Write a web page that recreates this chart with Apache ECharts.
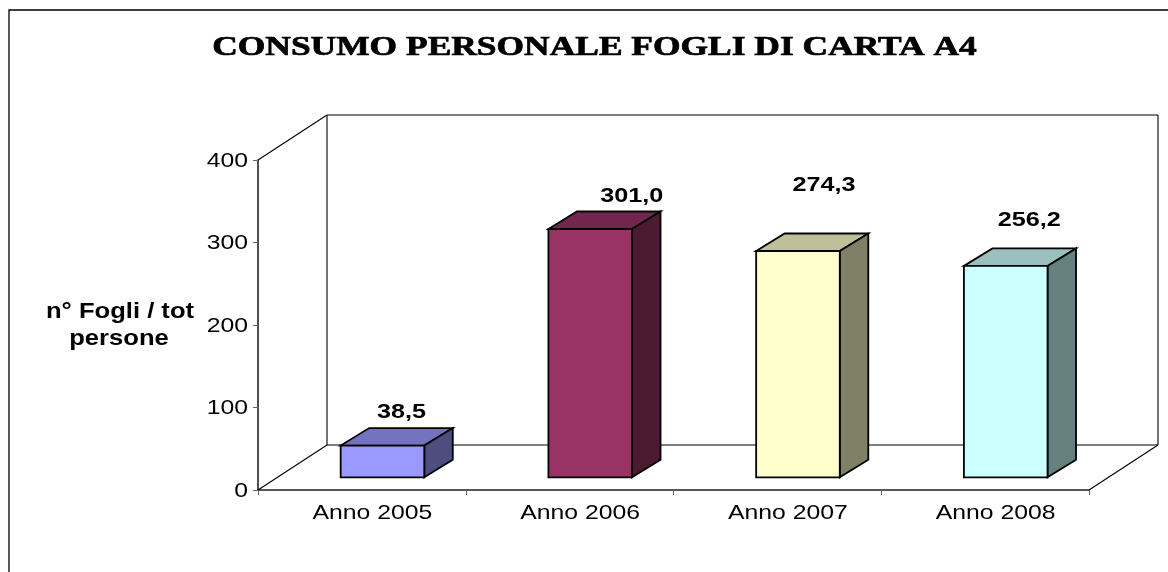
<!DOCTYPE html>
<html>
<head>
<meta charset="utf-8">
<style>html,body{margin:0;padding:0;background:#fff}#c{width:1168px;height:572px}</style>
<script src="https://cdn.jsdelivr.net/npm/echarts@6/dist/echarts.min.js"></script>
</head>
<body>
<div id="c"></div>
<script>
const chartTitle = 'CONSUMO PERSONALE FOGLI DI CARTA A4';
const yAxisTitle = ['n° Fogli / tot', 'persone'];
const categories = ['Anno 2005', 'Anno 2006', 'Anno 2007', 'Anno 2008'];
const values = [38.5, 301.0, 274.3, 256.2];
const yTicks = [0, 100, 200, 300, 400];
const faceFront = ['#9999FF', '#993366', '#FFFFCC', '#CCFFFF'];
const faceTop = ['#7373BF', '#73264D', '#BFBF99', '#99BFBF'];
const faceSide = ['#4D4D80', '#4D1A33', '#808066', '#668080'];

// Style constants of the 3D look
const SANS = '"Liberation Sans", Arial, sans-serif';
const STRETCH = 1.18;
const WALL = [69, -45], BASE = [20.6, -12.7], DEPTH = [28.5, -17.5];
const BAR_RATIO = 0.4025;
const LABEL_SHIFT = [[19, -16], [41.5, -15], [26, -48], [23.5, -28]];

function poly(points, fill, z2) {
  return { type: 'polygon', z2, shape: { points },
    style: { fill, stroke: '#000', lineWidth: 1.8, lineJoin: 'miter' } };
}
function wallLine(a, b) {
  return { type: 'line', shape: { x1: a[0], y1: a[1], x2: b[0], y2: b[1] },
    style: { stroke: '#000', lineWidth: 1.1 } };
}
function renderWalls(params) {
  const g = params.coordSys;
  const L = g.x, R = g.x + g.width, T = g.y, B = g.y + g.height;
  const [dx, dy] = WALL;
  return { type: 'group', children: [
    wallLine([L, T], [L + dx, T + dy]),
    wallLine([L, B], [L + dx, B + dy]),
    wallLine([R, B], [R + dx, B + dy]),
    wallLine([L + dx, T + dy], [R + dx, T + dy]),
    wallLine([L + dx, T + dy], [L + dx, B + dy]),
    wallLine([R + dx, T + dy], [R + dx, B + dy]),
    wallLine([L + dx, B + dy], [R + dx, B + dy])
  ]};
}
function renderBar(params, api) {
  const i = api.value(0), v = api.value(1);
  const c = api.coord([i, v]), c0 = api.coord([i, 0]);
  const w = api.size([1, 0])[0] * BAR_RATIO;
  const x0 = c[0] - w / 2 + BASE[0], x1 = x0 + w;
  const yT = c[1] + BASE[1], yB = c0[1] + BASE[1];
  const [dx, dy] = DEPTH;
  const shift = LABEL_SHIFT[i];
  return { type: 'group', children: [
    poly([[x0, yB], [x1, yB], [x1, yT], [x0, yT]], faceFront[i], 3),
    poly([[x0, yT], [x1, yT], [x1 + dx, yT + dy], [x0 + dx, yT + dy]], faceTop[i], 2),
    poly([[x1, yB], [x1 + dx, yB + dy], [x1 + dx, yT + dy], [x1, yT]], faceSide[i], 2),
    { type: 'text', z2: 5, x: (x0 + x1) / 2 + shift[0], y: yT + dy + shift[1], scaleX: 1.2,
      style: { text: v.toFixed(1).replace('.', ','), font: 'bold 21px ' + SANS, fill: '#000',
               align: 'center', verticalAlign: 'middle' } }
  ]};
}
function renderYTick(params, api) {
  const p = api.coord([0, api.value(1)]);
  return { type: 'text', x: params.coordSys.x - 10, y: p[1] + 1, scaleX: STRETCH,
    style: { text: String(api.value(1)), font: '21px ' + SANS, fill: '#000',
             align: 'right', verticalAlign: 'middle' } };
}
function renderXTick(params, api) {
  const p = api.coord([api.value(0), 0]);
  return { type: 'text', x: p[0] + 10.5, y: p[1] + 23.5, scaleX: STRETCH,
    style: { text: categories[api.value(0)], font: '21px ' + SANS, fill: '#000',
             align: 'center', verticalAlign: 'middle' } };
}

const chart = echarts.init(document.getElementById('c'), null, { renderer: 'canvas' });
chart.setOption({
  animation: false,
  backgroundColor: '#fff',
  tooltip: { show: false },
  grid: { left: 258, top: 160, width: 831, height: 330, containLabel: false },
  xAxis: { type: 'category', data: categories, boundaryGap: true,
    axisLine: { lineStyle: { color: '#222', width: 1.6 } },
    axisTick: { show: true, length: 5, alignWithLabel: false, lineStyle: { color: '#666', width: 1 } },
    axisLabel: { show: false }, splitLine: { show: false } },
  yAxis: { type: 'value', min: 0, max: 400, interval: 100,
    axisLine: { show: true, lineStyle: { color: '#222', width: 1.6 } },
    axisTick: { show: true, length: 5, lineStyle: { color: '#666', width: 1 } },
    axisLabel: { show: false }, splitLine: { show: false } },
  graphic: [
    { type: 'rect', silent: true, z: -1, shape: { x: 9, y: 10, width: 1200, height: 600 },
      style: { fill: 'none', stroke: '#000', lineWidth: 1.3 } },
    { type: 'text', silent: true, x: 594.5, y: 47.5, scaleX: 1.265,
      style: { text: chartTitle, font: 'bold 28px "Liberation Serif", serif', fill: '#000',
               stroke: '#000', lineWidth: 0.7,
               align: 'center', verticalAlign: 'middle' } },
    { type: 'text', silent: true, x: 120, y: 312, scaleX: 1.19,
      style: { text: yAxisTitle[0], font: 'bold 21.5px ' + SANS, fill: '#000',
               align: 'center', verticalAlign: 'middle' } },
    { type: 'text', silent: true, x: 119, y: 339, scaleX: 1.19,
      style: { text: yAxisTitle[1], font: 'bold 21.5px ' + SANS, fill: '#000',
               align: 'center', verticalAlign: 'middle' } }
  ],
  series: [
    { type: 'custom', name: 'walls', silent: true, clip: false, z: 1,
      renderItem: renderWalls, data: [[0, 0]] },
    { type: 'custom', name: 'Consumo', silent: true, clip: false, z: 3,
      renderItem: renderBar, encode: { x: 0, y: 1 },
      data: values.map((v, i) => [i, v]) },
    { type: 'custom', name: 'yTicks', silent: true, clip: false, z: 4,
      renderItem: renderYTick, encode: { x: 0, y: 1 }, data: yTicks.map(v => [0, v]) },
    { type: 'custom', name: 'xTicks', silent: true, clip: false, z: 4,
      renderItem: renderXTick, encode: { x: 0, y: 1 }, data: categories.map((c, i) => [i, 0]) }
  ]
});
</script>
</body>
</html>
